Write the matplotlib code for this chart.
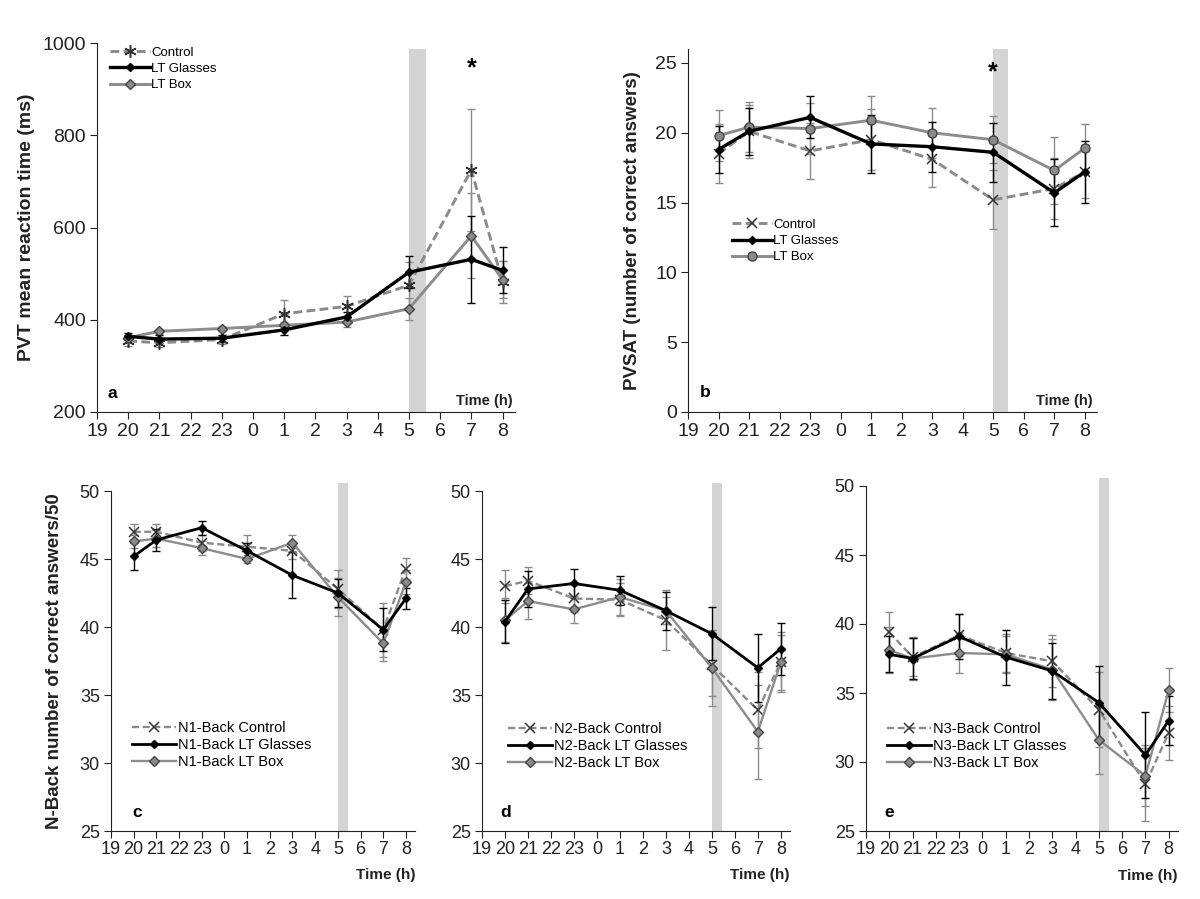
import matplotlib
matplotlib.use("Agg")
import matplotlib.pyplot as plt
import numpy as np

plt.rcParams['font.family'] = ['Liberation Sans', 'DejaVu Sans']

# time axis
tick_hours = [19, 20, 21, 22, 23, 0, 1, 2, 3, 4, 5, 6, 7, 8]
hours = [20, 21, 23, 1, 3, 5, 7, 8]

# panel a: PVT mean reaction time (ms)
pvt_control = [354, 350, 357, 413, 429, 475, 725, 482]
pvt_control_err = [10, 10, 10, 30, 23, 50, 132, 45]
pvt_glasses = [364, 358, 360, 378, 406, 503, 531, 507]
pvt_glasses_err = [8, 8, 8, 12, 10, 35, 94, 50]
pvt_box = [361, 375, 381, 388, 395, 424, 582, 487]
pvt_box_err = [5, 5, 5, 8, 10, 24, 92, 40]

# panel b: PVSAT
pvsat_control = [18.5, 20.1, 18.7, 19.5, 18.1, 15.2, 16.0, 17.2]
pvsat_control_err = [2.1, 1.9, 2.0, 2.2, 2.0, 2.1, 2.2, 1.9]
pvsat_glasses = [18.8, 20.1, 21.1, 19.2, 19.0, 18.6, 15.7, 17.2]
pvsat_glasses_err = [1.7, 1.7, 1.5, 2.1, 1.8, 2.1, 2.4, 2.2]
pvsat_box = [19.8, 20.4, 20.3, 20.9, 20.0, 19.5, 17.3, 18.9]
pvsat_box_err = [1.8, 1.8, 1.8, 1.7, 1.8, 1.7, 2.4, 1.75]

# panel c: N1-Back
n1_control = [47.0, 47.0, 46.2, 45.9, 45.6, 42.8, 39.8, 44.3]
n1_control_err = [0.6, 0.6, 0.6, 0.9, 0.6, 1.4, 2.0, 0.75]
n1_glasses = [45.2, 46.4, 47.3, 45.6, 43.8, 42.5, 39.8, 42.1]
n1_glasses_err = [1.0, 0.8, 0.5, 0.6, 1.7, 1.0, 1.6, 0.8]
n1_box = [46.3, 46.5, 45.8, 45.0, 46.2, 42.2, 38.8, 43.3]
n1_box_err = [0.5, 0.6, 0.5, 0.3, 0.6, 1.4, 1.3, 0.9]

# panel d: N2-Back
n2_control = [43.0, 43.4, 42.1, 42.0, 40.5, 37.2, 33.9, 37.4]
n2_control_err = [1.2, 1.0, 1.0, 1.2, 2.2, 2.3, 2.8, 2.2]
n2_glasses = [40.4, 42.8, 43.2, 42.7, 41.2, 39.5, 37.0, 38.4]
n2_glasses_err = [1.6, 1.3, 1.05, 1.05, 1.4, 1.95, 2.5, 1.9]
n2_box = [40.5, 41.9, 41.3, 42.2, 41.2, 37.0, 32.3, 37.4]
n2_box_err = [1.6, 1.3, 1.0, 1.3, 1.0, 2.8, 3.45, 2.0]

# panel e: N3-Back
n3_control = [39.4, 37.6, 39.2, 37.9, 37.3, 33.8, 28.4, 32.1]
n3_control_err = [1.5, 1.4, 1.5, 1.4, 1.9, 2.7, 2.65, 1.95]
n3_glasses = [37.8, 37.5, 39.1, 37.6, 36.6, 34.3, 30.5, 33.0]
n3_glasses_err = [1.3, 1.46, 1.64, 2.0, 2.05, 2.65, 3.1, 1.8]
n3_box = [38.1, 37.5, 37.9, 37.8, 36.7, 31.6, 29.0, 35.2]
n3_box_err = [1.65, 1.56, 1.45, 1.36, 2.2, 2.5, 2.2, 1.6]

x = np.array([(h - 19) % 24 for h in hours])
xt = np.array([(h - 19) % 24 for h in tick_hours])

C_CTRL = '#8a8a8a'
C_BOX = '#8c8c8c'
C_GL = '#000000'
BAND = '#d4d4d4'
TXT = '#222222'

fig = plt.figure(figsize=(12, 8.99), dpi=100)


def style_axis(ax, ylim, yticks, tsize):
    ax.patch.set_visible(False)
    ax.set_xlim(0, 13.4)
    ax.set_ylim(*ylim)
    ax.set_xticks(xt)
    ax.set_xticklabels([str(h) for h in tick_hours])
    ax.set_yticks(yticks)
    ax.spines['top'].set_visible(False)
    ax.spines['right'].set_visible(False)
    ax.spines['left'].set_color(TXT)
    ax.spines['bottom'].set_color(TXT)
    ax.tick_params(axis='both', labelsize=tsize, length=5, color=TXT,
                   labelcolor=TXT, pad=3)


def draw(ax, ctrl, ctrl_e, gl, gl_e, box, box_e, labels, lw, box_marker, box_ms,
         ctrl_marker, ctrl_ms):
    ax.errorbar(x, ctrl, yerr=ctrl_e, fmt='none', ecolor=C_CTRL, elinewidth=1,
                capsize=3.2, capthick=1, zorder=2)
    ax.errorbar(x, box, yerr=box_e, fmt='none', ecolor=C_BOX, elinewidth=1,
                capsize=3.2, capthick=1, zorder=2)
    ax.errorbar(x, gl, yerr=gl_e, fmt='none', ecolor=C_GL, elinewidth=1,
                capsize=3.2, capthick=1, zorder=3)
    ax.plot(x, ctrl, color=C_CTRL, lw=lw, ls=(0, (3, 1.5)), marker=ctrl_marker,
            ms=ctrl_ms, mec='#333333', mfc='none', mew=1.1, label=labels[0], zorder=4)
    ax.plot(x, gl, color=C_GL, lw=lw + 0.3, marker='D', ms=4, mec='black',
            mfc='black', label=labels[1], zorder=6)
    ax.plot(x, box, color=C_BOX, lw=lw, marker=box_marker, ms=box_ms,
            mec='#444444', mfc='#8a8a8a', mew=1, label=labels[2], zorder=5)


# panel a
ax = fig.add_axes([97 / 1200, 1 - 412 / 899, 418 / 1200, 369 / 899])
ax.axvspan(10, 10.55, ymax=0.984, color=BAND, lw=0, zorder=0)
draw(ax, pvt_control, pvt_control_err, pvt_glasses, pvt_glasses_err, pvt_box,
     pvt_box_err, ['Control', 'LT Glasses', 'LT Box'], 2.1, 'D', 5.5, (6, 2, 0), 9)
style_axis(ax, (200, 1000), [200, 400, 600, 800, 1000], 14)
ax.set_ylabel('PVT mean reaction time (ms)', fontsize=14, fontweight='bold',
              color=TXT, labelpad=5)
ax.text(12, 946, '*', ha='center', va='center', fontsize=18, fontweight='bold')
ax.text(0.024, 0.05, 'a', transform=ax.transAxes, fontsize=12.5, fontweight='bold',
        va='center')
ax.text(0.995, 0.012, 'Time (h)', transform=ax.transAxes, ha='right', va='bottom',
        fontsize=10.5, fontweight='bold', color=TXT)
ax.legend(loc='center left', bbox_to_anchor=(0.019, 0.93), frameon=False,
          fontsize=9.5, handlelength=3.0, handletextpad=0.1, labelspacing=0.3,
          borderaxespad=0)

# panel b
ax = fig.add_axes([688 / 1200, 1 - 412 / 899, 409 / 1200, 363 / 899])
ax.axvspan(10, 10.5, color=BAND, lw=0, zorder=0)
draw(ax, pvsat_control, pvsat_control_err, pvsat_glasses, pvsat_glasses_err,
     pvsat_box, pvsat_box_err, ['Control', 'LT Glasses', 'LT Box'], 2.1, 'o', 6.5,
     'x', 7)
style_axis(ax, (0, 26), [0, 5, 10, 15, 20, 25], 14)
ax.set_ylabel('PVSAT (number of correct answers)', fontsize=13.5, fontweight='bold',
              color=TXT, labelpad=10)
ax.text(10, 24.3, '*', ha='center', va='center', fontsize=18, fontweight='bold')
ax.text(0.03, 0.055, 'b', transform=ax.transAxes, fontsize=12.5, fontweight='bold',
        va='center')
ax.text(0.99, 0.012, 'Time (h)', transform=ax.transAxes, ha='right', va='bottom',
        fontsize=10.5, fontweight='bold', color=TXT)
ax.legend(loc='center left', bbox_to_anchor=(0.095, 0.471), frameon=False,
          fontsize=9.5, handlelength=3.0, handletextpad=0.1, labelspacing=0.3,
          borderaxespad=0)

# panels c, d, e
n_panels = [
    ([111, 491, 304, 340], n1_control, n1_control_err, n1_glasses, n1_glasses_err,
     n1_box, n1_box_err, 'N1', 'c', 0.07, 0.05, 0.253),
    ([482, 491, 308, 340], n2_control, n2_control_err, n2_glasses, n2_glasses_err,
     n2_box, n2_box_err, 'N2', 'd', 0.058, 0.065, 0.25),
    ([866, 486, 312, 345], n3_control, n3_control_err, n3_glasses, n3_glasses_err,
     n3_box, n3_box_err, 'N3', 'e', 0.06, 0.05, 0.246),
]
for pos, c, ce, g, ge, b, be, nm, letter, lx, legx, legy in n_panels:
    l, t, w, h = pos
    ax = fig.add_axes([l / 1200, 1 - (t + h) / 899, w / 1200, h / 899])
    ax.axvspan(10, 10.45, ymax=1.023, color=BAND, lw=0, zorder=0, clip_on=False)
    labels = [nm + '-Back Control', nm + '-Back LT Glasses', nm + '-Back LT Box']
    draw(ax, c, ce, g, ge, b, be, labels, 1.7, 'D', 5.5, 'x', 7)
    style_axis(ax, (25, 50), [25, 30, 35, 40, 45, 50], 13)
    ax.tick_params(axis='x', pad=2)
    if letter == 'c':
        ax.set_ylabel('N-Back number of correct answers/50', fontsize=13.5,
                      fontweight='bold', color=TXT, labelpad=12)
    ax.text(lx, 0.053, letter, transform=ax.transAxes, fontsize=12.5,
            fontweight='bold', va='center')
    ax.text(1.0, -0.13, 'Time (h)', transform=ax.transAxes, ha='right',
            va='center', fontsize=11, fontweight='bold', color=TXT)
    ax.legend(loc='center left', bbox_to_anchor=(legx, legy), frameon=False,
              fontsize=10.5, handlelength=3.0, handletextpad=0.15,
              labelspacing=0.22, borderaxespad=0)

fig.savefig('out.png', dpi=100)
